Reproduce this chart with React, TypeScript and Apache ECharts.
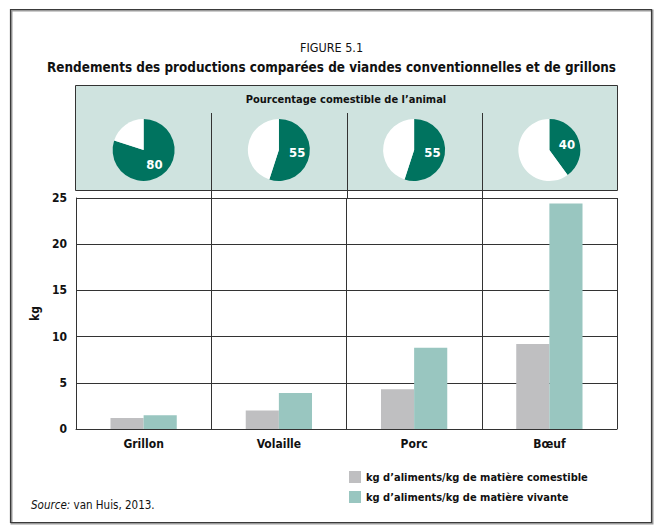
import React, { useEffect, useRef } from "react";
import * as echarts from "echarts";

const categories = ["Grillon", "Volaille", "Porc", "Bœuf"];
const comestible = [1.2, 2.0, 4.3, 9.2];
const vivante = [1.5, 3.9, 8.8, 24.4];
const ediblePct = [80, 55, 55, 40];
const seriesNames = [
  "kg d’aliments/kg de matière comestible",
  "kg d’aliments/kg de matière vivante",
];
const yMin = 0;
const yMax = 25;
const yInterval = 5;

const W = 663;
const H = 532;
const gridLeft = 76;
const gridRight = 617;
const gridTop = 198;
const gridBottom = 429;
const catW = (gridRight - gridLeft) / categories.length;
const FONT = "'Liberation Sans Narrow', 'DejaVu Sans Condensed', Roboto, sans-serif";
const GREEN = "#00735f";
const TEAL = "#99c6c0";
const GREY = "#bfbfc1";
const LINE = "#333333";

export default function App() {
  const ref = useRef<HTMLDivElement>(null);
  useEffect(() => {
    if (!ref.current) return;
    const chart = echarts.init(ref.current, undefined, { renderer: "svg" });

    const pieSeries = ediblePct.map((p, i) => ({
      type: "pie",
      silent: true,
      z: 5,
      center: [gridLeft + (i + 0.5) * catW, 150],
      radius: [0, 31],
      startAngle: 90,
      clockwise: true,
      emphasis: { disabled: true },
      labelLine: { show: false },
      data: [
        {
          value: p,
          name: "comestible-" + i,
          itemStyle: { color: GREEN },
          label: {
            show: true,
            position: "inside",
            formatter: "{c}",
            color: "#ffffff",
            fontWeight: "bold",
            fontSize: 13,
            fontFamily: FONT,
          },
        },
        {
          value: 100 - p,
          name: "reste-" + i,
          itemStyle: { color: "#ffffff" },
          label: { show: false },
        },
      ],
    }));

    const dividerLines = [1, 2, 3].map((k) => ({
      type: "line",
      z: 2,
      shape: {
        x1: Math.round(gridLeft + k * catW) + 0.5,
        y1: 113,
        x2: Math.round(gridLeft + k * catW) + 0.5,
        y2: gridTop,
      },
      style: { stroke: LINE, lineWidth: 1 },
    }));

    chart.setOption({
      animation: false,
      backgroundColor: "#ffffff",
      textStyle: { fontFamily: FONT },
      graphic: [
        {
          type: "rect",
          z: 0,
          silent: true,
          shape: { x: 11.5, y: 10.5, width: 641, height: 513 },
          style: { fill: "none", stroke: "#9a9a9a", lineWidth: 2 },
        },
        {
          type: "rect",
          z: 0,
          silent: true,
          shape: { x: 10.5, y: 9.5, width: 641, height: 513 },
          style: { fill: "none", stroke: "#3a3a3a", lineWidth: 1.2 },
        },
        {
          type: "text",
          z: 3,
          x: W / 2,
          y: 47,
          style: {
            text: "FIGURE 5.1",
            fill: "#111",
            font: `12.5px ${FONT}`,
            align: "center",
            verticalAlign: "middle",
          },
        },
        {
          type: "text",
          z: 3,
          x: W / 2,
          y: 67,
          style: {
            text: "Rendements des productions comparées de viandes conventionnelles et de grillons",
            fill: "#111",
            font: `bold 13.4px ${FONT}`,
            align: "center",
            verticalAlign: "middle",
          },
        },
        {
          type: "rect",
          z: 1,
          shape: { x: 75.5, y: 85.5, width: 542, height: 105 },
          style: { fill: "#cfe3df", stroke: LINE, lineWidth: 1 },
        },
        {
          type: "text",
          z: 3,
          x: 346,
          y: 99,
          style: {
            text: "Pourcentage comestible de l’animal",
            fill: "#111",
            font: `bold 11px ${FONT}`,
            align: "center",
            verticalAlign: "middle",
          },
        },
        ...dividerLines,
        {
          type: "text",
          z: 3,
          x: 31,
          y: 505,
          style: {
            text: "{i|Source:} van Huis, 2013.",
            fill: "#111",
            font: `11.5px ${FONT}`,
            verticalAlign: "middle",
            rich: {
              i: { fontStyle: "italic", fontSize: 11.5, fontFamily: FONT, fill: "#111" },
            },
          },
        },
      ],
      legend: {
        data: seriesNames,
        orient: "vertical",
        left: 344,
        top: 466,
        itemWidth: 12,
        itemHeight: 12,
        itemGap: 8,
        icon: "rect",
        selectedMode: false,
        textStyle: { fontFamily: FONT, fontWeight: "bold", fontSize: 11, color: "#111" },
      },
      grid: {
        left: gridLeft,
        right: W - gridRight,
        top: gridTop,
        bottom: H - gridBottom,
        containLabel: false,
      },
      xAxis: {
        type: "category",
        data: categories,
        axisLine: { show: true, lineStyle: { color: LINE, width: 1 } },
        axisTick: { show: false },
        axisLabel: {
          fontFamily: FONT,
          fontWeight: "bold",
          fontSize: 12,
          color: "#111",
          margin: 9,
        },
        splitLine: { show: true, lineStyle: { color: LINE, width: 1 } },
      },
      yAxis: {
        type: "value",
        min: yMin,
        max: yMax,
        interval: yInterval,
        name: "kg",
        nameLocation: "middle",
        nameRotate: 90,
        nameGap: 35,
        nameTextStyle: { fontFamily: FONT, fontWeight: "bold", fontSize: 12, color: "#111" },
        axisLine: { show: true, lineStyle: { color: LINE, width: 1 } },
        axisTick: { show: false },
        axisLabel: {
          fontFamily: FONT,
          fontWeight: "bold",
          fontSize: 12,
          color: "#111",
          margin: 9,
        },
        splitLine: { show: true, lineStyle: { color: LINE, width: 1 } },
      },
      series: [
        {
          name: seriesNames[0],
          type: "bar",
          data: comestible,
          itemStyle: { color: GREY },
          barGap: "0%",
          barCategoryGap: "51%",
          silent: true,
          z: 3,
        },
        {
          name: seriesNames[1],
          type: "bar",
          data: vivante,
          itemStyle: { color: TEAL },
          barGap: "0%",
          barCategoryGap: "51%",
          silent: true,
          z: 3,
        },
        ...pieSeries,
      ],
    });
    return () => chart.dispose();
  }, []);

  return (
    <div
      ref={ref}
      style={{ position: "absolute", left: 0, top: 0, width: W, height: H }}
    />
  );
}
